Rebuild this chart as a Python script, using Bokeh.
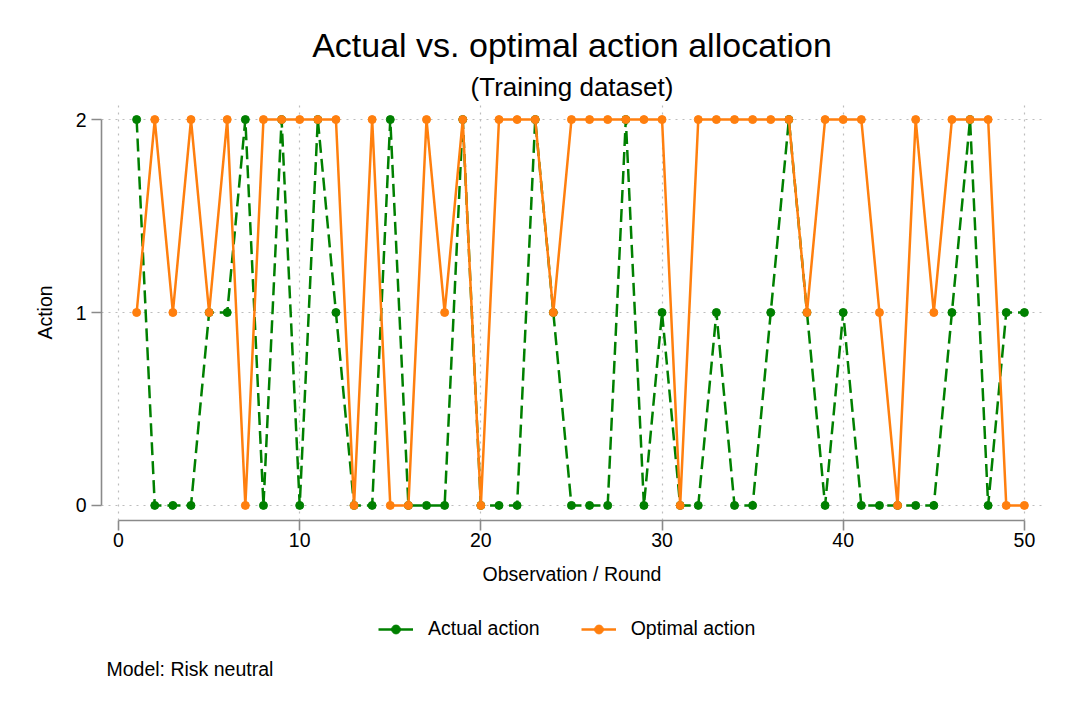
from bokeh.plotting import figure
from bokeh.layouts import column
from bokeh.models import Range1d, FixedTicker, Legend, LegendItem, Title, Label
from bokeh.embed import file_html
from bokeh.resources import INLINE

rounds = list(range(1, 51))
actual = [2, 0, 0, 0, 1, 1, 2, 0, 2, 0,
          2, 1, 0, 0, 2, 0, 0, 0, 2, 0,
          0, 0, 2, 1, 0, 0, 0, 2, 0, 1,
          0, 0, 1, 0, 0, 1, 2, 1, 0, 1,
          0, 0, 0, 0, 0, 1, 2, 0, 1, 1]
optimal = [1, 2, 1, 2, 1, 2, 0, 2, 2, 2,
           2, 2, 0, 2, 0, 0, 2, 1, 2, 0,
           2, 2, 2, 1, 2, 2, 2, 2, 2, 2,
           0, 2, 2, 2, 2, 2, 2, 1, 2, 2,
           2, 1, 0, 2, 1, 2, 2, 2, 0, 0]
x_ticks = [0, 10, 20, 30, 40, 50]
y_ticks = [0, 1, 2]

title_text = "Actual vs. optimal action allocation"
subtitle_text = "(Training dataset)"
note_text = "Model: Risk neutral"
series_labels = ["Actual action", "Optimal action"]

GREEN = "#008000"
ORANGE = "#ff7f0e"
FONT = "Liberation Sans"

# ---------------- main chart ----------------
p = figure(width=1057, height=600, output_backend="svg", toolbar_location=None,
           x_range=Range1d(-0.94, 51.0), y_range=Range1d(-0.078, 2.078),
           min_border_left=101, min_border_right=15, min_border_top=104, min_border_bottom=80)
p.title.visible = False
p.outline_line_color = None
p.background_fill_color = "white"
p.border_fill_color = "white"

for ax in (p.xaxis[0], p.yaxis[0]):
    ax.axis_line_color = "#8a8a8a"
    ax.axis_line_width = 1.6
    ax.major_tick_line_color = "#8a8a8a"
    ax.major_tick_line_width = 1.6
    ax.major_tick_out = 10
    ax.major_tick_in = 0
    ax.minor_tick_line_color = None
    ax.major_label_text_font = FONT
    ax.major_label_text_font_size = "19.5px"
    ax.major_label_text_color = "black"
    ax.axis_label_text_font = FONT
    ax.axis_label_text_font_size = "19.5px"
    ax.axis_label_text_font_style = "normal"
    ax.axis_label_text_color = "black"

p.xaxis.ticker = FixedTicker(ticks=x_ticks)
p.yaxis.ticker = FixedTicker(ticks=y_ticks)
p.xaxis.bounds = (0, 50)
p.yaxis.bounds = (0, 2)
p.xaxis.axis_label = "Observation / Round"
p.yaxis.axis_label = "Action"
p.xaxis.major_label_standoff = 2
p.yaxis.major_label_standoff = 5
p.xaxis.axis_label_standoff = 13
p.yaxis.axis_label_standoff = 17
p.yaxis.major_label_orientation = "horizontal"

for g in (p.xgrid[0], p.ygrid[0]):
    g.grid_line_color = "#bdbdbd"
    g.grid_line_dash = "2 5"
    g.grid_line_width = 1.2
p.xgrid.ticker = FixedTicker(ticks=x_ticks)
p.ygrid.ticker = FixedTicker(ticks=y_ticks)

p.line(rounds, actual, line_color=GREEN, line_width=2.5, line_dash="13 6")
p.scatter(rounds, actual, marker="circle", size=8, fill_color=GREEN, line_color=GREEN)
p.line(rounds, optimal, line_color=ORANGE, line_width=2.5)
p.scatter(rounds, optimal, marker="circle", size=8, fill_color=ORANGE, line_color=ORANGE)

p.add_layout(Title(text=subtitle_text, align="center", standoff=6,
                   text_font=FONT, text_font_size="26px", text_font_style="normal",
                   text_color="black"), "above")
p.add_layout(Title(text=title_text, align="center", standoff=5,
                   text_font=FONT, text_font_size="34px", text_font_style="normal",
                   text_color="black"), "above")

# ---------------- legend + note strip ----------------
# (its frame is aligned with the main chart's frame by the column layout;
#  the series are drawn here out of view only so that the legend has glyphs)
q = figure(width=1057, height=102, output_backend="svg", toolbar_location=None,
           x_axis_type=None, y_axis_type=None,
           x_range=Range1d(-20, -19), y_range=Range1d(-20, -19),
           min_border_left=0, min_border_right=0, min_border_top=0, min_border_bottom=0)
q.title.visible = False
q.outline_line_color = None
q.border_fill_color = "white"

lg_a_line = q.line(rounds, actual, line_color=GREEN, line_width=2.5)
lg_a_pt = q.scatter(rounds, actual, marker="circle", size=8, fill_color=GREEN, line_color=GREEN)
lg_o_line = q.line(rounds, optimal, line_color=ORANGE, line_width=2.5)
lg_o_pt = q.scatter(rounds, optimal, marker="circle", size=8, fill_color=ORANGE, line_color=ORANGE)

legend = Legend(items=[LegendItem(label=series_labels[0], renderers=[lg_a_line, lg_a_pt]),
                       LegendItem(label=series_labels[1], renderers=[lg_o_line, lg_o_pt])],
                orientation="horizontal", location=(277, 62),
                padding=0, margin=0, spacing=41, glyph_width=35, glyph_height=22,
                label_height=22, label_standoff=15,
                label_text_font=FONT, label_text_font_size="19.5px", label_text_color="black",
                border_line_color=None, background_fill_alpha=0)
q.add_layout(legend, "center")

q.add_layout(Label(x=5, y=34, x_units="screen", y_units="screen", text=note_text,
                   text_align="left", text_baseline="alphabetic",
                   text_font=FONT, text_font_size="19.5px", text_color="black"))

layout = column(p, q, spacing=0)
open("out.html", "w").write(file_html(layout, INLINE))
